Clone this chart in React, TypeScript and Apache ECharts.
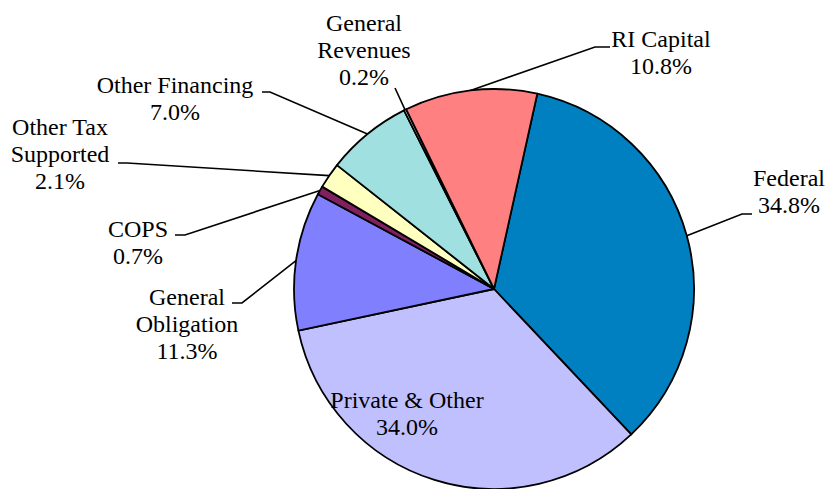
import React, { useEffect, useRef } from "react";
import * as echarts from "echarts";

// Data
const categories = [
  "Federal",
  "Private & Other",
  "General Obligation",
  "COPS",
  "Other Tax Supported",
  "Other Financing",
  "General Revenues",
  "RI Capital",
];
const labelTexts = [
  "Federal",
  "Private & Other",
  "General\nObligation",
  "COPS",
  "Other Tax\nSupported",
  "Other Financing",
  "General\nRevenues",
  "RI Capital",
];
const values = [34.8, 34.0, 11.3, 0.7, 2.1, 7.0, 0.2, 10.8];

// Styles / positions (not data)
const FONT = "'Liberation Serif', 'Times New Roman', serif";
const colors = [
  "#0080C0",
  "#C0C0FF",
  "#8080FF",
  "#802060",
  "#FFFFC0",
  "#A0E0E0",
  "#E0E0E0",
  "#FF8080",
];
const labelCenters: number[][] = [
  [789, 191],
  [407, 413],
  [187, 324],
  [138, 242],
  [60, 154],
  [175, 98],
  [364, 50],
  [661, 52],
];
const leaderElbows: number[][][] = [
  [[742, 214], [752, 214]],
  [],
  [[242, 303], [232, 303]],
  [[185, 235], [175, 235]],
  [[127, 163], [118, 163]],
  [[270, 92], [262, 92]],
  [[395, 88]],
  [[595, 47], [610, 47]],
];

export default function App() {
  const ref = useRef<HTMLDivElement>(null);
  useEffect(() => {
    if (!ref.current) return;
    const chart = echarts.init(ref.current, undefined, { renderer: "svg" });
    chart.setOption({
      animation: false,
      backgroundColor: "#ffffff",
      textStyle: { fontFamily: FONT },
      series: [
        {
          type: "pie",
          center: [494, 289],
          radius: 200,
          startAngle: 77.5,
          clockwise: true,
          avoidLabelOverlap: false,
          itemStyle: { borderColor: "#000000", borderWidth: 1.8 },
          label: {
            show: true,
            position: "outside",
            fontFamily: FONT,
            fontSize: 24,
            lineHeight: 27,
            color: "#000000",
            align: "center",
            formatter: (p: any) =>
              `${labelTexts[p.dataIndex]}\n${Number(p.value).toFixed(1)}%`,
          },
          labelLine: {
            show: true,
            smooth: false,
            lineStyle: { color: "#000000", width: 1.6 },
          },
          emphasis: { disabled: true },
          labelLayout: (params: any) => {
            const i = params.dataIndex;
            const c = labelCenters[i];
            const res: any = {
              x: c[0],
              y: c[1],
              align: "center",
              verticalAlign: "middle",
            };
            const elbows = leaderElbows[i];
            if (elbows.length && params.labelLinePoints) {
              res.labelLinePoints = [params.labelLinePoints[0], ...elbows];
            }
            return res;
          },
          data: categories.map((name, i) => ({
            name,
            value: values[i],
            itemStyle: { color: colors[i] },
            labelLine: { show: leaderElbows[i].length > 0 },
          })),
        },
      ],
    });
    return () => chart.dispose();
  }, []);
  return (
    <div
      ref={ref}
      style={{ position: "fixed", left: 0, top: 0, width: 828, height: 489 }}
    />
  );
}
